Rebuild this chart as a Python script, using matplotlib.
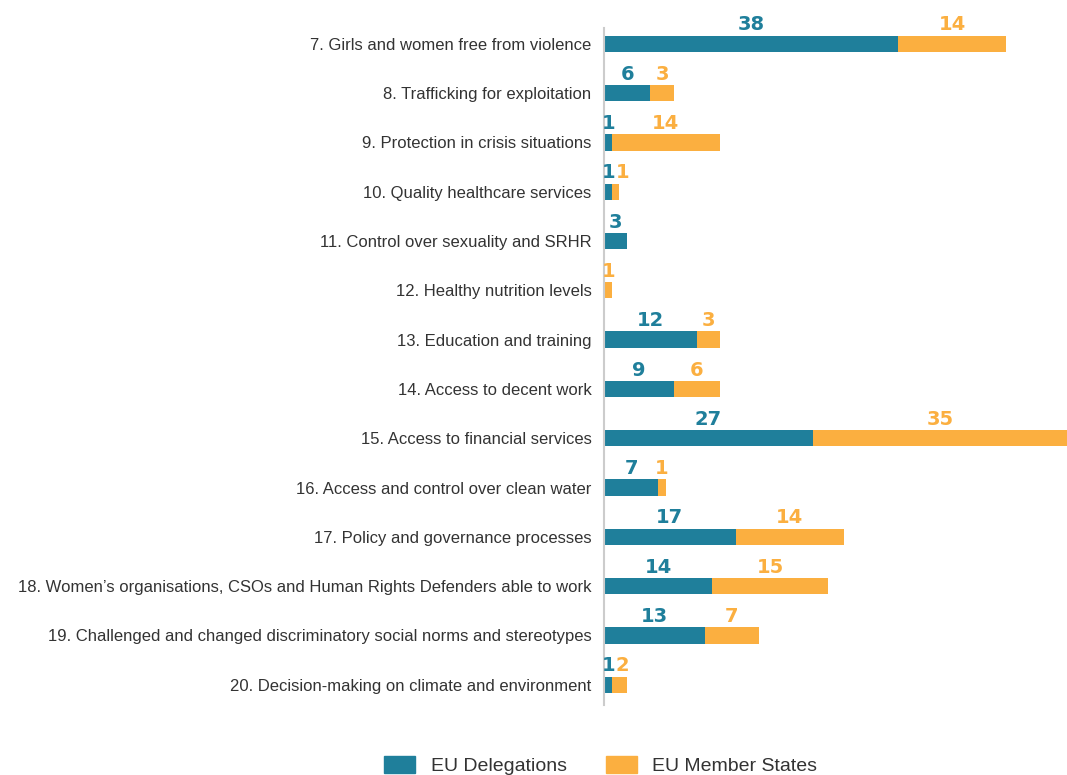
import matplotlib
matplotlib.use("Agg")
from matplotlib import pyplot as plt
from matplotlib.patches import Patch
import numpy as np

plt.rcParams['font.family'] = ['Liberation Sans Narrow', 'Liberation Sans', 'DejaVu Sans']

categories = [
    "7. Girls and women free from violence",
    "8. Trafficking for exploitation",
    "9. Protection in crisis situations",
    "10. Quality healthcare services",
    "11. Control over sexuality and SRHR",
    "12. Healthy nutrition levels",
    "13. Education and training",
    "14. Access to decent work",
    "15. Access to financial services",
    "16. Access and control over clean water",
    "17. Policy and governance processes",
    "18. Women\u2019s organisations, CSOs and Human Rights Defenders able to work",
    "19. Challenged and changed discriminatory social norms and stereotypes",
    "20. Decision-making on climate and environment",
]
eu_delegations = [38, 6, 1, 1, 3, 0, 12, 9, 27, 7, 17, 14, 13, 1]
eu_member_states = [14, 3, 14, 1, 0, 1, 3, 6, 35, 1, 14, 15, 7, 2]

TEAL = "#1f7f9b"
ORANGE = "#fbaf40"
TEXT = "#333333"

fig = plt.figure(figsize=(10.67, 7.75), dpi=100)
ax = fig.add_axes([604 / 1067, 70 / 775, 463 / 1067, 677 / 775])

xmax = 463 / 7.74
y = np.arange(len(categories))
d = np.array(eu_delegations)
m = np.array(eu_member_states)

ax.barh(y, d, height=0.33, color=TEAL)
ax.barh(y, m, left=d, height=0.33, color=ORANGE)

ax.set_xlim(0, xmax)
ax.set_ylim(len(categories) - 1 + 0.41, -0.32)

num_font = dict(family=['DejaVu Sans'], fontsize=14, fontweight='bold')

# value labels, centred on the visible part of each segment
for i in range(len(categories)):
    tx = None
    if d[i] > 0:
        tx = max(min(d[i], xmax) / 2, 0.6)
        ax.text(tx, i - 0.19, str(d[i]), ha='center', va='bottom',
                color=TEAL, **num_font)
    if m[i] > 0:
        right = min(d[i] + m[i], xmax)
        cx = max((d[i] + right) / 2, 0.6)
        if tx is not None:
            cx = max(cx, tx + 1.8)
        ax.text(cx, i - 0.19, str(m[i]), ha='center', va='bottom',
                color=ORANGE, **num_font)

ax.set_yticks(y)
ax.set_yticklabels(categories, fontsize=12, color=TEXT)
ax.tick_params(axis='y', length=0, pad=9)
ax.set_xticks([])
for s in ['top', 'right', 'bottom']:
    ax.spines[s].set_visible(False)
ax.spines['left'].set_color('#cccccc')
ax.spines['left'].set_linewidth(1.5)

handles = [Patch(color=TEAL, label='EU Delegations'),
           Patch(color=ORANGE, label='EU Member States')]
fig.legend(handles=handles, loc='center', bbox_to_anchor=(0.563, 0.012), ncol=2,
           frameon=False, fontsize=14, handlelength=1.6, handleheight=1.0,
           columnspacing=2.0, labelcolor=TEXT)

fig.savefig("out.png", dpi=100)
